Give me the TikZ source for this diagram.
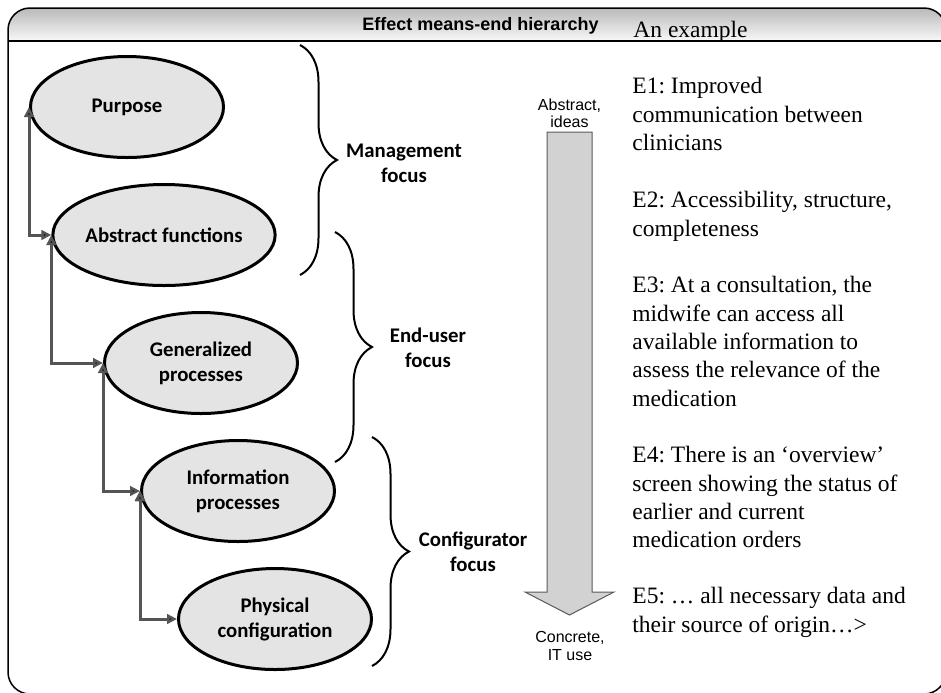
\documentclass[tikz,border=0pt]{standalone}
\usepackage{fontspec}
\setmainfont{Liberation Serif}
\setsansfont{Liberation Sans}
\newfontfamily\carlito{Carlito}
\usetikzlibrary{positioning,shapes.geometric,decorations.pathreplacing,arrows.meta}
\frenchspacing

\definecolor{levelfill}{RGB}{228,228,228}
\definecolor{linkgray}{RGB}{85,85,85}
\definecolor{shaftfill}{RGB}{210,210,210}

\tikzset{
  level/.style={ellipse, draw, line width=1.5pt, fill=levelfill, minimum width=96.5pt,
    minimum height=50.5pt, inner sep=0pt, align=center,
    font=\carlito\bfseries\fontsize{10.4}{12.5}\selectfont},
  link/.style={{Triangle[length=5pt,width=4.8pt]}-{Triangle[length=5pt,width=4.8pt]},
    line width=1.5pt, draw=linkgray},
  elbow/.style={to path={|- (\tikztotarget)}},
  brace/.style={decorate, decoration={brace, amplitude=18.5pt}, line width=1pt},
  focus/.style={align=center, font=\carlito\bfseries\fontsize{10.4}{12.5}\selectfont},
  scalelabel/.style={align=center, inner sep=0pt, font=\sffamily\fontsize{8}{8.6}\selectfont},
  example/.style={anchor=north west, inner sep=0pt, align=left,
    font=\fontsize{11.75}{14.2}\selectfont}
}

\begin{document}
\begin{tikzpicture}[x=0.5pt,y=-0.5pt,node distance=12pt]
\useasboundingbox (0,0) rectangle (941,692);

% frame and header
\shade[top color=gray!55, bottom color=gray!5]
  (8,41) [rounded corners=11pt] -- (8,8) -- (946,8) [sharp corners] -- (946,41) -- cycle;
\draw[line width=0.75pt, rounded corners=11pt] (8,8) rectangle (946,694);
\draw[line width=0.75pt] (8,41) -- (946,41);
\node [anchor=base, font=\sffamily\bfseries\fontsize{9}{11}\selectfont] (title) at (480.5,30)
  {Effect means-end hierarchy};
\node [anchor=base west, inner sep=0pt, font=\fontsize{11.75}{14.2}\selectfont] (subtitle) at (633,37)
  {An example};

% levels
\node [level] (purpose) at (127,107) {Purpose};
\node [level] (abstract) [below=12pt of purpose, xshift=18.5pt] {Abstract functions};
\node [level] (generalized) [below=12pt of abstract, xshift=18.5pt] {Generalized\\processes};
\node [level] (information) [below=12pt of generalized, xshift=18.5pt] {Information\\processes};
\node [level] (physical) [below=12pt of information, xshift=18.5pt] {Physical\\configuration};
\path [link]
(purpose.west) edge [elbow] (abstract.west)
(abstract.west) edge [elbow] (generalized.west)
(generalized.west) edge [elbow] (information.west)
(information.west) edge [elbow] (physical.west);

% braces
\coordinate (mgtop) at (300,45);
\coordinate (mgbot) at (300,275);
\coordinate (eutop) at (335,232);
\coordinate (eubot) at (335,462);
\coordinate (cftop) at (372,437);
\coordinate (cfbot) at (372,666);
\draw [brace] (mgtop) -- (mgbot);
\draw [brace] (eutop) -- (eubot);
\draw [brace] (cftop) -- (cfbot);
\node [focus] (mgfocus) at (404,163) {Management\\focus};
\node [focus] (eufocus) at (428,348) {End-user\\focus};
\node [focus] (cffocus) at (473,552) {Configurator\\focus};

% abstract to concrete
\node [scalelabel] (ideas) at (569.5,113) {Abstract,\\ideas};
\node [scalelabel] (concrete) at (570,646) {Concrete,\\IT use};
\draw [fill=shaftfill, draw=gray!70!black, line width=0.5pt]
  (547,132) -- (547,592) -- (525,592) -- (569.5,615) -- (614,592) -- (592,592) -- (592,132) -- cycle;

% example texts
\node [example] (e1) at (632,77) {E1: Improved\\communication between\\clinicians};
\node [example] (e2) at (632,191) {E2: Accessibility, structure,\\completeness};
\node [example] (e3) at (632,276) {E3: At a consultation, the\\midwife can access all\\available information to\\assess the relevance of the\\medication};
\node [example] (e4) at (632,446) {E4: There is an ‘overview’\\screen showing the status of\\earlier and current\\medication orders};
\node [example] (e5) at (632,587) {E5: … all necessary data and\\their source of origin…>};
\end{tikzpicture}
\end{document}
